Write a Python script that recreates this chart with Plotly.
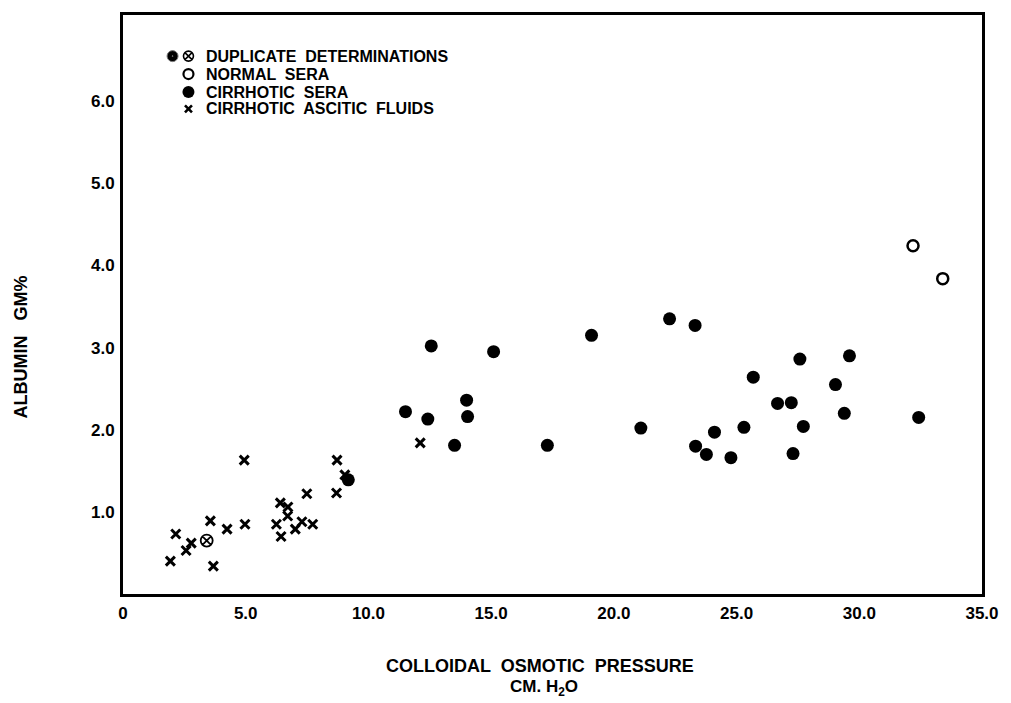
import plotly.graph_objects as go

# Colloidal osmotic pressure (cm H2O) vs. albumin (gm %)
ascitic_x = [1.93, 2.15, 2.57, 2.78, 3.56, 3.68, 4.24, 4.94, 4.97, 6.25, 6.41,
             6.44, 6.72, 6.71, 7.02, 7.29, 7.49, 7.73, 8.72, 8.70, 9.04, 12.11]
ascitic_y = [0.40, 0.73, 0.53, 0.62, 0.89, 0.34, 0.79, 1.63, 0.85, 0.85, 1.11,
             0.70, 1.06, 0.95, 0.79, 0.88, 1.22, 0.85, 1.63, 1.23, 1.45, 1.84]

duplicate_x = [3.41]
duplicate_y = [0.65]

cirrhotic_x = [9.18, 11.51, 12.42, 12.56, 13.51, 14.00, 14.04, 15.10, 17.29,
               19.09, 21.10, 22.27, 23.31, 23.33, 23.77, 24.10, 24.77, 25.30,
               25.68, 26.67, 27.23, 27.30, 27.58, 27.72, 29.03, 29.39, 29.60,
               32.42]
cirrhotic_y = [1.39, 2.22, 2.13, 3.02, 1.81, 2.36, 2.16, 2.95, 1.81,
               3.15, 2.02, 3.35, 3.27, 1.80, 1.70, 1.97, 1.66, 2.03,
               2.64, 2.32, 2.33, 1.71, 2.86, 2.04, 2.55, 2.20, 2.90,
               2.15]

normal_x = [32.19, 33.40]
normal_y = [4.24, 3.84]

x_ticks = [0, 5, 10, 15, 20, 25, 30, 35]
x_tick_text = ["0", "5.0", "10.0", "15.0", "20.0", "25.0", "30.0", "35.0"]
y_ticks = [1, 2, 3, 4, 5, 6]
y_tick_text = ["1.0", "2.0", "3.0", "4.0", "5.0", "6.0"]

legend_labels = ["DUPLICATE  DETERMINATIONS", "NORMAL  SERA",
                 "CIRRHOTIC  SERA", "CIRRHOTIC  ASCITIC  FLUIDS"]

FONT = "Liberation Sans, Arial, sans-serif"
INK = "black"


def bold(items):
    return ["<b>%s</b>" % t for t in items]


fig = go.Figure()

fig.add_trace(go.Scatter(
    x=ascitic_x, y=ascitic_y, mode="markers",
    marker=dict(symbol="x-thin", size=9, line=dict(color=INK, width=3)),
    showlegend=False, hoverinfo="x+y"))
fig.add_trace(go.Scatter(
    x=duplicate_x, y=duplicate_y, mode="markers",
    marker=dict(symbol="circle-x-open", size=12, color=INK,
                line=dict(color=INK, width=1.8)),
    showlegend=False, hoverinfo="x+y"))
fig.add_trace(go.Scatter(
    x=cirrhotic_x, y=cirrhotic_y, mode="markers",
    marker=dict(symbol="circle", size=13, color=INK, line=dict(width=0)),
    showlegend=False, hoverinfo="x+y"))
fig.add_trace(go.Scatter(
    x=normal_x, y=normal_y, mode="markers",
    marker=dict(symbol="circle-open", size=11, color=INK,
                line=dict(color=INK, width=2.5)),
    showlegend=False, hoverinfo="x+y"))

# Key in the upper-left corner, drawn on overlay axes spanning the plot area
key_x = 0.0947
key_rows = [0.929, 0.898, 0.867, 0.838]
key_sym_x = 0.0762
fig.add_trace(go.Scatter(
    x=[0.0577], y=[key_rows[0]], xaxis="x2", yaxis="y2", mode="markers",
    marker=dict(symbol="circle-dot", size=11, color=INK,
                line=dict(color="#777777", width=1)),
    showlegend=False, hoverinfo="skip"))
fig.add_trace(go.Scatter(
    x=[key_sym_x], y=[key_rows[0]], xaxis="x2", yaxis="y2", mode="markers",
    marker=dict(symbol="circle-x-open", size=10, color=INK,
                line=dict(color=INK, width=1.6)),
    showlegend=False, hoverinfo="skip"))
fig.add_trace(go.Scatter(
    x=[key_sym_x], y=[key_rows[1]], xaxis="x2", yaxis="y2", mode="markers",
    marker=dict(symbol="circle-open", size=10, color=INK,
                line=dict(color=INK, width=2.2)),
    showlegend=False, hoverinfo="skip"))
fig.add_trace(go.Scatter(
    x=[key_sym_x], y=[key_rows[2]], xaxis="x2", yaxis="y2", mode="markers",
    marker=dict(symbol="circle", size=12, color=INK),
    showlegend=False, hoverinfo="skip"))
fig.add_trace(go.Scatter(
    x=[key_sym_x], y=[key_rows[3]], xaxis="x2", yaxis="y2", mode="markers",
    marker=dict(symbol="x-thin", size=7, line=dict(color=INK, width=2.6)),
    showlegend=False, hoverinfo="skip"))

annotations = []
for label, yr in zip(legend_labels, key_rows):
    annotations.append(dict(
        x=key_x, y=yr, xref="paper", yref="paper", text="<b>%s</b>" % label,
        showarrow=False, xanchor="left", yanchor="middle",
        font=dict(family=FONT, size=16, color=INK)))

annotations.append(dict(
    x=0.485, y=-0.124, xref="paper", yref="paper",
    text="<b>COLLOIDAL  OSMOTIC  PRESSURE</b>", showarrow=False,
    xanchor="center", yanchor="middle",
    font=dict(family=FONT, size=18, color=INK)))
annotations.append(dict(
    x=0.49, y=-0.163, xref="paper", yref="paper",
    text="<b>CM. H<sub>2</sub>O</b>", showarrow=False,
    xanchor="center", yanchor="middle",
    font=dict(family=FONT, size=17, color=INK)))
annotations.append(dict(
    x=-0.119, y=0.427, xref="paper", yref="paper",
    text="<b>ALBUMIN   GM%</b>", showarrow=False, textangle=-90,
    xanchor="center", yanchor="middle",
    font=dict(family=FONT, size=18, color=INK)))

fig.update_layout(
    width=1011, height=703,
    margin=dict(l=123, r=22, t=14, b=109),
    paper_bgcolor="white", plot_bgcolor="white",
    font=dict(family=FONT, color=INK),
    showlegend=False,
    annotations=annotations,
    xaxis=dict(
        range=[0, 35], tickvals=x_ticks, ticktext=bold(x_tick_text),
        showgrid=False, zeroline=False, showline=True, mirror=True,
        linecolor=INK, linewidth=3, ticks="", ticklabelstandoff=2,
        tickfont=dict(family=FONT, size=17, color=INK)),
    yaxis=dict(
        range=[0, 7.05], tickvals=y_ticks, ticktext=bold(y_tick_text),
        showgrid=False, zeroline=False, showline=True, mirror=True,
        linecolor=INK, linewidth=3, ticks="", ticklabelstandoff=2,
        tickfont=dict(family=FONT, size=17, color=INK)),
    xaxis2=dict(range=[0, 1], overlaying="x", visible=False, fixedrange=True),
    yaxis2=dict(range=[0, 1], overlaying="y", visible=False, fixedrange=True),
)

fig.write_html("out.html")
